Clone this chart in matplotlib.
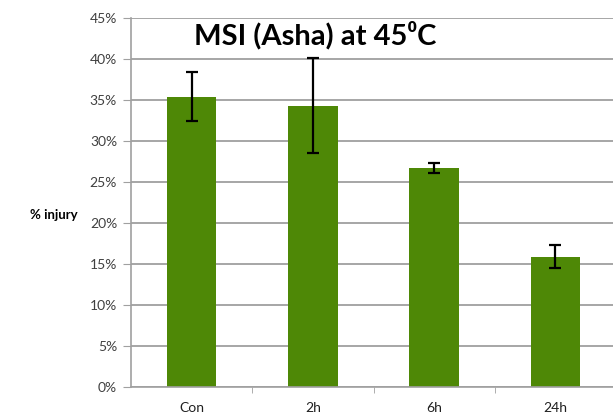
import matplotlib.pyplot as plt
import numpy as np

categories = ["Con", "2h", "6h", "24h"]
injury = [35.4, 34.3, 26.7, 15.9]
err = [3.0, 5.8, 0.6, 1.4]
yticks = [0, 5, 10, 15, 20, 25, 30, 35, 40, 45]

plt.rcParams['font.family'] = ['Lato', 'DejaVu Sans']

fig = plt.figure(figsize=(6.13, 4.20), dpi=100)
ax = fig.add_axes([131 / 613, 1 - 387 / 420, 485 / 613, 369 / 420])

x = np.arange(len(categories))
ax.bar(x, injury, width=0.41, color='#4e8806', zorder=2)
ax.errorbar(x, injury, yerr=err, fmt='none', ecolor='black', elinewidth=1.6,
            capsize=4, capthick=1.6, zorder=3)

ax.set_xlim(-0.5, len(categories) - 0.5)
ax.set_ylim(0, 45)
ax.set_yticks(yticks)
ax.set_yticklabels([f"{v}%" for v in yticks], fontsize=10, color='#404040')
ax.set_xticks(x)
ax.set_xticklabels(categories, fontsize=10, color='#202020')
ax.tick_params(axis='x', length=0, pad=11)
ax.set_xticks(np.arange(0.5, len(categories) - 0.5), minor=True)
ax.tick_params(axis='x', which='minor', length=4, color='#a0a0a0', direction='out')
ax.tick_params(axis='y', length=6, color='#a0a0a0', direction='out', pad=4)

ax.grid(axis='y', color='#a6a6a6', linewidth=1.4, zorder=0)
ax.set_axisbelow(True)
for s in ['top', 'right']:
    ax.spines[s].set_visible(False)
ax.spines['left'].set_color('#a0a0a0')
ax.spines['bottom'].set_color('#a0a0a0')
ax.spines['left'].set_linewidth(1.2)
ax.spines['bottom'].set_linewidth(1.2)

fig.text(30 / 613, 1 - 215 / 420, "% injury", fontsize=9.5, fontweight='bold',
         va='center', ha='left')
fig.text(315 / 613, 1 - 35 / 420, "MSI (Asha) at 45\u2070C", fontsize=21,
         fontweight='bold', ha='center', va='center')

fig.savefig("out.png", dpi=100)
